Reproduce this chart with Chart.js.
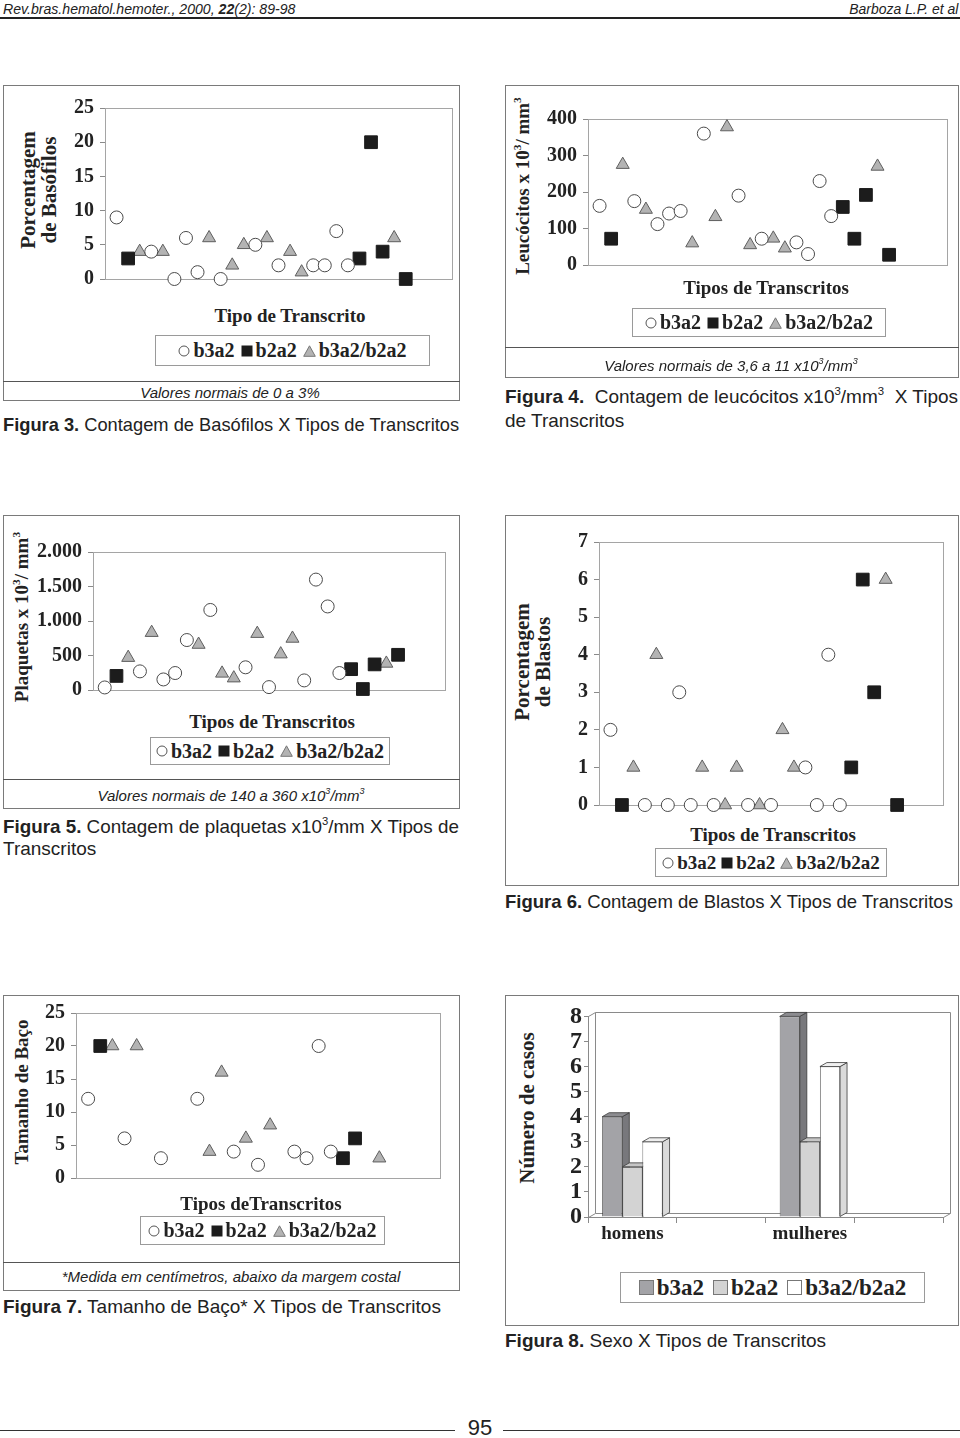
<!DOCTYPE html>
<html>
<head>
<meta charset="utf-8">
<script src="https://cdn.jsdelivr.net/npm/chart.js@4"></script>
<style>
  html,body{margin:0;padding:0;background:#fff;}
  body{width:960px;height:1438px;position:relative;overflow:hidden;color:#222;}
  .box{position:absolute;border:1px solid #7a7a7a;box-sizing:border-box;}
  .hl{position:absolute;height:0;border-top:1px solid #555;}
  .t{position:absolute;white-space:nowrap;}
  .sb{font-family:"Liberation Serif","DejaVu Serif",serif;font-weight:bold;color:#222;}
  .cap{font-family:"Liberation Sans Narrow","Liberation Sans",Arial,sans-serif;font-size:19px;color:#222;}
  .cap b{font-weight:bold;}
  .note{font-family:"Liberation Sans Narrow","Liberation Sans",Arial,sans-serif;font-style:italic;font-size:15px;color:#222;}
  .ctr{transform:translate(-50%,-50%);}
  .lft{transform:translate(0,-50%);transform-origin:0 50%;}
  .rot{transform:translate(-50%,-50%) rotate(-90deg);text-align:center;line-height:20px;font-size:19px;}
  .leg{position:absolute;border:1px solid #9a9a9a;box-sizing:border-box;display:flex;align-items:center;justify-content:center;gap:6px;font-size:20px;background:#fff;}
  .leg span{display:inline-flex;align-items:center;gap:3px;}
  sup{font-size:60%;vertical-align:0.7em;line-height:0;}
  canvas{position:absolute;}
</style>
</head>
<body>

<!-- header -->
<div class="t note" style="left:3px;top:8px;font-size:15px;transform:translate(0,-50%) scaleX(0.94);transform-origin:0 50%;">Rev.bras.hematol.hemoter., 2000, <b>22</b>(2): 89-98</div>
<div class="t note" style="right:2px;top:8px;font-size:15px;transform:translate(0,-50%) scaleX(0.93);transform-origin:100% 50%;">Barboza L.P. et al</div>
<div class="hl" style="left:0;top:17px;width:960px;border-top:2px solid #222;"></div>

<!-- Figure 3 -->
<div class="box" style="left:3px;top:85px;width:457px;height:316px;"></div>
<div class="t sb rot" style="left:39px;top:190px;font-size:21px;line-height:21px;">Porcentagem<br>de Basófilos</div>
<canvas id="c3" width="412" height="207" style="left:50px;top:90px;"></canvas>
<div class="t sb ctr" style="left:290px;top:316px;font-size:19px;">Tipo de Transcrito</div>
<div class="leg sb" id="leg3" style="left:155px;top:335px;width:275px;height:31px;"></div>
<div class="hl" style="left:3px;top:381px;width:457px;"></div>
<div class="t note ctr" style="left:230px;top:392px;">Valores normais de 0 a 3%</div>
<div class="t cap lft" style="left:3px;top:425px;transform:translate(0,-50%) scaleX(0.962);"><b>Figura 3.</b> Contagem de Basófilos X Tipos de Transcritos</div>

<!-- Figure 4 -->
<div class="box" style="left:505px;top:85px;width:454px;height:293px;"></div>
<div class="t sb rot" style="left:523px;top:186px;">Leucócitos x 10<sup>3</sup>/ mm<sup>3</sup></div>
<canvas id="c4" width="422" height="182" style="left:535px;top:101px;"></canvas>
<div class="t sb ctr" style="left:766px;top:288px;font-size:19px;">Tipos de Transcritos</div>
<div class="leg sb" id="leg4" style="left:632px;top:308px;width:254px;height:29px;"></div>
<div class="hl" style="left:505px;top:347px;width:454px;"></div>
<div class="t note ctr" style="left:731px;top:365px;">Valores normais de 3,6 a 11 x10<sup>3</sup>/mm<sup>3</sup></div>
<div class="t cap lft" style="left:505px;top:397px;"><b>Figura 4.</b>&nbsp; Contagem de leucócitos x10<sup>3</sup>/mm<sup>3</sup>&nbsp; X Tipos</div>
<div class="t cap lft" style="left:505px;top:421px;">de Transcritos</div>

<!-- Figure 5 -->
<div class="box" style="left:3px;top:515px;width:457px;height:294px;"></div>
<div class="t sb rot" style="left:22px;top:617px;">Plaquetas x 10<sup>3</sup>/ mm<sup>3</sup></div>
<canvas id="c5" width="420" height="174" style="left:35px;top:534px;"></canvas>
<div class="t sb ctr" style="left:272px;top:722px;font-size:19px;">Tipos de Transcritos</div>
<div class="leg sb" id="leg5" style="left:150px;top:737px;width:240px;height:28px;"></div>
<div class="hl" style="left:3px;top:779px;width:457px;"></div>
<div class="t note ctr" style="left:231px;top:795px;">Valores normais de 140 a 360 x10<sup>3</sup>/mm<sup>3</sup></div>
<div class="t cap lft" style="left:3px;top:827px;transform:translate(0,-50%) scaleX(0.99);"><b>Figura 5.</b> Contagem de plaquetas x10<sup>3</sup>/mm X Tipos de</div>
<div class="t cap lft" style="left:3px;top:849px;">Transcritos</div>

<!-- Figure 6 -->
<div class="box" style="left:505px;top:515px;width:454px;height:371px;"></div>
<div class="t sb rot" style="left:533px;top:662px;font-size:21px;line-height:21px;">Porcentagem<br>de Blastos</div>
<canvas id="c6" width="393" height="299" style="left:560px;top:524px;"></canvas>
<div class="t sb ctr" style="left:773px;top:835px;font-size:19px;">Tipos de Transcritos</div>
<div class="leg sb" id="leg6" style="left:655px;top:848px;width:232px;height:29px;font-size:19px;gap:5px;"></div>
<div class="t cap lft" style="left:505px;top:902px;transform:translate(0,-50%) scaleX(0.975);"><b>Figura 6.</b> Contagem de Blastos X Tipos de Transcritos</div>

<!-- Figure 7 -->
<div class="box" style="left:3px;top:995px;width:457px;height:296px;"></div>
<div class="t sb rot" style="left:22px;top:1092px;">Tamanho de Baço</div>
<canvas id="c7" width="420" height="201" style="left:30px;top:995px;"></canvas>
<div class="t sb ctr" style="left:261px;top:1204px;font-size:19px;">Tipos deTranscritos</div>
<div class="leg sb" id="leg7" style="left:140px;top:1216px;width:245px;height:29px;"></div>
<div class="hl" style="left:3px;top:1262px;width:457px;"></div>
<div class="t note ctr" style="left:231px;top:1276px;">*Medida em centímetros, abaixo da margem costal</div>
<div class="t cap lft" style="left:3px;top:1307px;"><b>Figura 7.</b> Tamanho de Baço* X Tipos de Transcritos</div>

<!-- Figure 8 -->
<div class="box" style="left:505px;top:995px;width:454px;height:331px;"></div>
<div class="t sb rot" style="left:527px;top:1108px;font-size:21px;">Número de casos</div>
<canvas id="c8" width="410" height="247" style="left:550px;top:1000px;"></canvas>
<div class="leg sb" id="leg8" style="left:620px;top:1272px;width:305px;height:31px;font-size:23px;gap:9px;"></div>
<div class="t cap lft" style="left:505px;top:1341px;"><b>Figura 8.</b> Sexo X Tipos de Transcritos</div>

<!-- footer -->
<div class="hl" style="left:0;top:1430px;width:455px;border-top:1.5px solid #333;"></div>
<div class="hl" style="left:503px;top:1430px;width:457px;border-top:1.5px solid #333;"></div>
<div class="t cap ctr" style="left:480px;top:1428px;font-size:22px;">95</div>

<script>
// ---------------- DATA ----------------
const seriesNames = ['b3a2', 'b2a2', 'b3a2/b2a2'];

// Figura 3 – Porcentagem de Basófilos
const fig3_b3a2_pos = [1, 4, 6, 7, 8, 10, 13, 15, 18, 19, 20, 21];
const fig3_b3a2_val = [9, 4, 0, 6, 1, 0, 5, 2, 2, 2, 7, 2];
const fig3_b2a2_pos = [2, 22, 23, 24, 26];
const fig3_b2a2_val = [3, 3, 20, 4, 0];
const fig3_mix_pos = [3, 5, 9, 11, 12, 14, 16, 17, 25];
const fig3_mix_val = [4, 4, 6, 2, 5, 6, 4, 1, 6];
const fig3_ticks = [0, 5, 10, 15, 20, 25];
const fig3_tick_labels = ['0', '5', '10', '15', '20', '25'];

// Figura 4 – Leucócitos x10³/mm³
const fig4_b3a2_pos = [1, 4, 6, 7, 8, 10, 13, 15, 18, 19, 20, 21];
const fig4_b3a2_val = [162, 175, 112, 141, 148, 360, 190, 72, 62, 30, 230, 134];
const fig4_b2a2_pos = [2, 22, 23, 24, 26];
const fig4_b2a2_val = [72, 159, 72, 192, 28];
const fig4_mix_pos = [3, 5, 9, 11, 12, 14, 16, 17, 25];
const fig4_mix_val = [275, 152, 60, 132, 378, 55, 73, 46, 270];
const fig4_ticks = [0, 100, 200, 300, 400];
const fig4_tick_labels = ['0', '100', '200', '300', '400'];

// Figura 5 – Plaquetas x10³/mm³
const fig5_b3a2_pos = [1, 4, 6, 7, 8, 10, 13, 15, 18, 19, 20, 21];
const fig5_b3a2_val = [37, 270, 153, 246, 724, 1160, 329, 42, 139, 1600, 1211, 246];
const fig5_b2a2_pos = [2, 22, 23, 24, 26];
const fig5_b2a2_val = [204, 302, 14, 371, 510];
const fig5_mix_pos = [3, 5, 9, 11, 12, 14, 16, 17, 25];
const fig5_mix_val = [469, 831, 659, 241, 172, 817, 520, 747, 385];
const fig5_ticks = [0, 500, 1000, 1500, 2000];
const fig5_tick_labels = ['0', '500', '1.000', '1.500', '2.000'];

// Figura 6 – Porcentagem de Blastos
const fig6_b3a2_pos = [1, 4, 6, 7, 8, 10, 13, 15, 18, 19, 20, 21];
const fig6_b3a2_val = [2, 0, 0, 3, 0, 0, 0, 0, 1, 0, 4, 0];
const fig6_b2a2_pos = [2, 22, 23, 24, 26];
const fig6_b2a2_val = [0, 1, 6, 3, 0];
const fig6_mix_pos = [3, 5, 9, 11, 12, 14, 16, 17, 25];
const fig6_mix_val = [1, 4, 1, 0, 1, 0, 2, 1, 6];
const fig6_ticks = [0, 1, 2, 3, 4, 5, 6, 7];
const fig6_tick_labels = ['0', '1', '2', '3', '4', '5', '6', '7'];

// Figura 7 – Tamanho de Baço (cm)
const fig7_b3a2_pos = [1, 4, 7, 10, 13, 15, 18, 19, 20, 21];
const fig7_b3a2_val = [12, 6, 3, 12, 4, 2, 4, 3, 20, 4];
const fig7_b2a2_pos = [2, 22, 23];
const fig7_b2a2_val = [20, 3, 6];
const fig7_mix_pos = [3, 5, 11, 12, 14, 16, 25];
const fig7_mix_val = [20, 20, 4, 16, 6, 8, 3];
const fig7_ticks = [0, 5, 10, 15, 20, 25];
const fig7_tick_labels = ['0', '5', '10', '15', '20', '25'];

// Figura 8 – Sexo x Tipos de Transcritos (número de casos)
const fig8_categories = ['homens', '', 'mulheres', ''];
const fig8_b3a2 = [4, null, 8, null];
const fig8_b2a2 = [2, null, 3, null];
const fig8_mix = [3, null, 6, null];
const fig8_ticks = [0, 1, 2, 3, 4, 5, 6, 7, 8];

// ---------------- STYLE ----------------
const SERIF = '"Liberation Serif", "DejaVu Serif", serif';
const markerStyles = [
  { pointStyle: 'circle', pointRadius: 6.5, backgroundColor: '#ffffff', borderColor: '#4a4a4a', borderWidth: 1 },
  { pointStyle: 'rect', pointRadius: 9, backgroundColor: '#1c1c1c', borderColor: '#1c1c1c', borderWidth: 1 },
  { pointStyle: 'triangle', pointRadius: 7.5, backgroundColor: '#b3b3b3', borderColor: '#5e5e5e', borderWidth: 1 }
];

function zip(xs, ys) { return xs.map((x, i) => ({ x: x, y: ys[i] })); }

const framePlugin = {
  id: 'frame',
  beforeDatasetsDraw(chart) {
    const a = chart.chartArea, ctx = chart.ctx;
    ctx.save();
    ctx.strokeStyle = '#a5a5a5';
    ctx.lineWidth = 1;
    ctx.strokeRect(Math.round(a.left) + 0.5, Math.round(a.top) + 0.5, Math.round(a.right - a.left), Math.round(a.bottom - a.top));
    ctx.restore();
  }
};

function makeScatter(id, pos, val, ticks, labels, xmax, yw) {
  const datasets = pos.map((p, k) => Object.assign({ label: seriesNames[k], data: zip(p, val[k]), clip: false }, markerStyles[k]));
  return new Chart(document.getElementById(id), {
    type: 'scatter',
    data: { datasets: datasets },
    options: {
      responsive: false, animation: false, events: [],
      layout: { padding: { top: 15, bottom: 15, left: 0, right: 4 } },
      plugins: { legend: { display: false }, tooltip: { enabled: false } },
      scales: {
        x: { type: 'linear', display: false, min: 0, max: xmax },
        y: {
          min: ticks[0], max: ticks[ticks.length - 1],
          afterBuildTicks: s => { s.ticks = ticks.map(v => ({ value: v })); },
          afterFit: s => { s.width = yw; },
          border: { display: true, color: '#9a9a9a' },
          grid: { drawOnChartArea: false, drawTicks: true, tickLength: 5, color: '#8a8a8a' },
          ticks: {
            font: { family: SERIF, size: 20, weight: 'bold' }, color: '#222', padding: 6, autoSkip: false,
            callback: v => labels[ticks.indexOf(v)]
          }
        }
      }
    },
    plugins: [framePlugin]
  });
}

makeScatter('c3', [fig3_b3a2_pos, fig3_b2a2_pos, fig3_mix_pos], [fig3_b3a2_val, fig3_b2a2_val, fig3_mix_val], fig3_ticks, fig3_tick_labels, 30, 55);
makeScatter('c4', [fig4_b3a2_pos, fig4_b2a2_pos, fig4_mix_pos], [fig4_b3a2_val, fig4_b2a2_val, fig4_mix_val], fig4_ticks, fig4_tick_labels, 31, 53);
makeScatter('c5', [fig5_b3a2_pos, fig5_b2a2_pos, fig5_mix_pos], [fig5_b3a2_val, fig5_b2a2_val, fig5_mix_val], fig5_ticks, fig5_tick_labels, 30, 58);
makeScatter('c6', [fig6_b3a2_pos, fig6_b2a2_pos, fig6_mix_pos], [fig6_b3a2_val, fig6_b2a2_val, fig6_mix_val], fig6_ticks, fig6_tick_labels, 30, 39);
makeScatter('c7', [fig7_b3a2_pos, fig7_b2a2_pos, fig7_mix_pos], [fig7_b3a2_val, fig7_b2a2_val, fig7_mix_val], fig7_ticks, fig7_tick_labels, 30, 46);

// ---- 3D bar chart (Figura 8) ----
const barFront = ['#a3a3a7', '#d3d3d3', '#ffffff'];
const barSide = ['#78787c', '#b9b9b9', '#dadada'];
const barTop = ['#8c8c90', '#c6c6c6', '#efefef'];
const DX = 7, DY = 4;

const bar3dPlugin = {
  id: 'bar3d',
  beforeDatasetsDraw(chart) {
    const a = chart.chartArea, ctx = chart.ctx;
    ctx.save();
    ctx.strokeStyle = '#8a8a8a';
    ctx.lineWidth = 1;
    const L = Math.round(a.left) + 0.5, R = Math.round(a.right) + 0.5, T = Math.round(a.top) + 0.5, B = Math.round(a.bottom) + 0.5;
    ctx.beginPath();
    ctx.rect(L + DX, T - DY, R - L, B - T);
    ctx.moveTo(L, T); ctx.lineTo(L + DX, T - DY);
    ctx.moveTo(L, B); ctx.lineTo(L + DX, B - DY);
    ctx.moveTo(R, B); ctx.lineTo(R + DX, B - DY);
    ctx.stroke();
    const metas = chart.getSortedVisibleDatasetMetas().slice().sort((m1, m2) => m1.index - m2.index);
    const n = chart.data.labels.length;
    ctx.strokeStyle = '#3a3a3a';
    ctx.lineWidth = 0.8;
    for (let i = 0; i < n; i++) {
      metas.forEach(meta => {
        const raw = chart.data.datasets[meta.index].data[i];
        const el = meta.data[i];
        if (raw === null || raw === undefined || !el || !Number.isFinite(el.y)) return;
        const xl = el.x - el.width / 2, xr = el.x + el.width / 2, y = el.y, b = el.base;
        const k = meta.index;
        ctx.fillStyle = barSide[k];
        ctx.beginPath();
        ctx.moveTo(xr, y); ctx.lineTo(xr + DX, y - DY); ctx.lineTo(xr + DX, b - DY); ctx.lineTo(xr, b); ctx.closePath();
        ctx.fill(); ctx.stroke();
        ctx.fillStyle = barTop[k];
        ctx.beginPath();
        ctx.moveTo(xl, y); ctx.lineTo(xl + DX, y - DY); ctx.lineTo(xr + DX, y - DY); ctx.lineTo(xr, y); ctx.closePath();
        ctx.fill(); ctx.stroke();
      });
    }
    ctx.restore();
  }
};

new Chart(document.getElementById('c8'), {
  type: 'bar',
  data: {
    labels: fig8_categories,
    datasets: [
      { label: seriesNames[0], data: fig8_b3a2, backgroundColor: barFront[0], borderColor: '#3a3a3a', borderWidth: 0.8 },
      { label: seriesNames[1], data: fig8_b2a2, backgroundColor: barFront[1], borderColor: '#3a3a3a', borderWidth: 0.8 },
      { label: seriesNames[2], data: fig8_mix, backgroundColor: barFront[2], borderColor: '#3a3a3a', borderWidth: 0.8 }
    ]
  },
  options: {
    responsive: false, animation: false, events: [],
    layout: { padding: { top: 15, right: 17, left: 0, bottom: 0 } },
    datasets: { bar: { categoryPercentage: 0.68, barPercentage: 1 } },
    plugins: { legend: { display: false }, tooltip: { enabled: false } },
    scales: {
      x: {
        grid: { offset: true, drawOnChartArea: false, drawTicks: true, tickLength: 6, color: '#8a8a8a' },
        border: { display: true, color: '#8a8a8a' },
        ticks: { font: { family: SERIF, size: 19, weight: 'bold' }, color: '#222', padding: 0, autoSkip: false, maxRotation: 0 },
        afterFit: s => { s.height = 30; }
      },
      y: {
        min: fig8_ticks[0], max: fig8_ticks[fig8_ticks.length - 1],
        afterBuildTicks: s => { s.ticks = fig8_ticks.map(v => ({ value: v })); },
        afterFit: s => { s.width = 38; },
        border: { display: true, color: '#8a8a8a' },
        grid: { drawOnChartArea: false, drawTicks: true, tickLength: 4, color: '#8a8a8a' },
        ticks: { font: { family: SERIF, size: 24, weight: 'bold' }, color: '#222', padding: 2, autoSkip: false }
      }
    }
  },
  plugins: [bar3dPlugin]
});

// ---------------- LEGENDS (HTML) ----------------
const svgMark = [
  '<svg width="12" height="12"><circle cx="6" cy="6" r="5" fill="#fff" stroke="#555" stroke-width="1"/></svg>',
  '<svg width="12" height="12"><rect x="0.5" y="0.5" width="11" height="11" fill="#1c1c1c"/></svg>',
  '<svg width="13" height="12"><polygon points="6.5,0.8 12.3,11.3 0.7,11.3" fill="#b3b3b3" stroke="#777" stroke-width="1"/></svg>'
];
['leg3', 'leg4', 'leg5', 'leg6', 'leg7'].forEach(id => {
  document.getElementById(id).innerHTML = seriesNames.map((s, k) => '<span>' + svgMark[k] + s + '</span>').join('');
});
document.getElementById('leg8').innerHTML = seriesNames.map((s, k) =>
  '<span><svg width="15" height="15"><rect x="0.5" y="0.5" width="14" height="14" fill="' + barFront[k] + '" stroke="#777" stroke-width="1"/></svg>' + s + '</span>').join('');
</script>
</body>
</html>
